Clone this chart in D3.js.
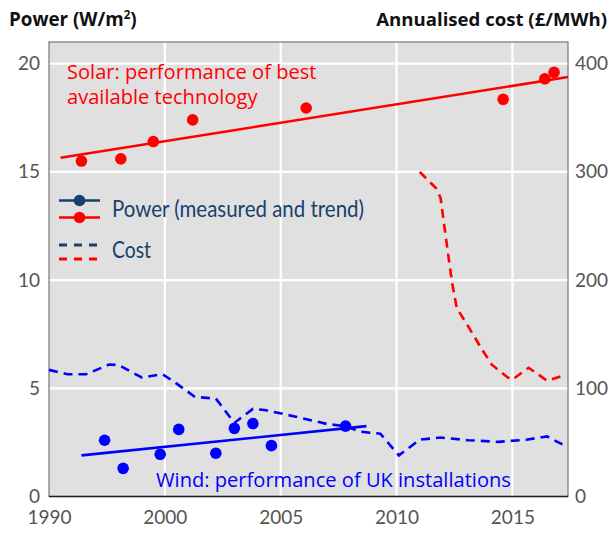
<!DOCTYPE html>
<html>
<head>
<meta charset="utf-8">
<script src="https://cdn.jsdelivr.net/npm/d3@7"></script>
<style>
  body { margin: 0; background: #fff; }
  svg text { font-family: "Open Sans", Lato, sans-serif; }
</style>
</head>
<body>
<div id="chart"></div>
<script>
// x ticks: gridlines are evenly spaced, first one is labelled 1990 in the original
var xTickVals = [1995, 2000, 2005, 2010, 2015];
var xTickLabels = ["1990", "2000", "2005", "2010", "2015"];
var powerTicks = [0, 5, 10, 15, 20];
var costTicks = [0, 100, 200, 300, 400];

// solar: best available technology (W/m2)
var solarYears = [1996.4, 1998.1, 1999.5, 2001.2, 2006.1, 2014.6, 2016.4, 2016.8];
var solarPower = [15.5, 15.6, 16.4, 17.4, 17.95, 18.35, 19.3, 19.6];
var solarTrend = [[1995.5, 15.65], [2017.4, 19.38]];

// wind: UK installations (W/m2)
var windYears = [1997.4, 1998.2, 1999.8, 2000.6, 2002.2, 2003.0, 2003.8, 2004.6, 2007.8];
var windPower = [2.6, 1.3, 1.95, 3.1, 2.0, 3.15, 3.37, 2.35, 3.25];
var windTrend = [[1996.4, 1.9], [2008.7, 3.25]];

// annualised cost (GBP/MWh)
var windCostYears = [1995.0, 1995.8, 1996.6, 1997.6, 1998.0, 1999.0, 1999.9, 2000.4, 2001.3, 2002.2, 2003.0,
  2003.8, 2004.3, 2005.6, 2007.0, 2007.8, 2008.4, 2009.3, 2010.1, 2011.0, 2011.9, 2013.1, 2014.4, 2015.6, 2016.5, 2017.3];
var windCost = [117, 113, 113, 122, 121.5, 110, 113, 106, 92, 90.5, 68,
  81, 80, 74, 67, 65, 60, 58, 38, 52.5, 54.5, 52, 50.5, 52.5, 55.5, 46.5];
var solarCostYears = [2011.0, 2011.7, 2011.9, 2012.2, 2012.4, 2012.6, 2013.1, 2013.6, 2014.1, 2014.8, 2015.0, 2015.7, 2016.5, 2017.1];
var solarCost = [300, 285, 276, 228, 197, 174, 157, 139, 122, 110, 108, 119, 107, 111];

var W = 611, H = 533;
var plotL = 49, plotR = 568, plotT = 42, plotB = 496.5;

var svg = d3.select("#chart").append("svg")
  .attr("width", W)
  .attr("height", H);

var x = d3.scaleLinear().domain([1995, 2017.4]).range([plotL, plotR]);
var y = d3.scaleLinear().domain([0, 21]).range([plotB, plotT]);
var yCost = d3.scaleLinear().domain([0, 420]).range([plotB, plotT]);

// plot background
svg.append("rect")
  .attr("x", plotL).attr("y", plotT)
  .attr("width", plotR - plotL).attr("height", plotB - plotT)
  .style("fill", "#e0e0e0");

// grid
svg.selectAll("line.hgrid")
  .data(powerTicks.slice(1))
  .enter()
  .append("line")
  .attr("class", "hgrid")
  .attr("x1", plotL).attr("x2", plotR)
  .attr("y1", function(d) { return y(d); })
  .attr("y2", function(d) { return y(d); })
  .style("stroke", "#fff")
  .style("stroke-width", 2.2);
svg.selectAll("line.vgrid")
  .data(xTickVals.slice(1))
  .enter()
  .append("line")
  .attr("class", "vgrid")
  .attr("y1", plotT).attr("y2", plotB)
  .attr("x1", function(d) { return x(d); })
  .attr("x2", function(d) { return x(d); })
  .style("stroke", "#fff")
  .style("stroke-width", 2.2);

// frame
svg.append("rect")
  .attr("x", plotL).attr("y", plotT)
  .attr("width", plotR - plotL).attr("height", plotB - plotT)
  .style("fill", "none")
  .style("stroke", "#777")
  .style("stroke-width", 1.2);
svg.append("line")
  .attr("x1", plotL).attr("x2", plotR)
  .attr("y1", plotB).attr("y2", plotB)
  .style("stroke", "#222")
  .style("stroke-width", 1.5);

// axes
var axisLeft = d3.axisLeft(y).tickValues(powerTicks).tickSize(0).tickPadding(9);
var axisRight = d3.axisRight(yCost).tickValues(costTicks).tickSize(0).tickPadding(7);
var axisBottom = d3.axisBottom(x).tickValues(xTickVals).tickSize(0).tickPadding(14)
  .tickFormat(function(d, i) { return xTickLabels[i]; });

function styleAxis(g) {
  g.select(".domain").remove();
  g.selectAll("text")
    .style("font-family", "Lato, sans-serif")
    .style("font-size", "19px")
    .style("fill", "#555");
}
svg.append("g").attr("transform", "translate(" + plotL + ",0)").call(axisLeft).call(styleAxis);
svg.append("g").attr("transform", "translate(" + plotR + ",0)").call(axisRight).call(styleAxis);
svg.append("g").attr("transform", "translate(0," + plotB + ")").call(axisBottom).call(styleAxis);

// axis titles
svg.append("text")
  .attr("x", 9).attr("y", 26)
  .style("font-size", "18.8px").style("font-weight", "bold").style("fill", "#111")
  .html("Power (W/m<tspan dy='-7' font-size='11.5px'>2</tspan><tspan dy='7'>)</tspan>");
svg.append("text")
  .attr("x", 607).attr("y", 26)
  .attr("text-anchor", "end")
  .style("font-size", "18.6px").style("font-weight", "bold").style("fill", "#111")
  .text("Annualised cost (£/MWh)");

// cost lines
var costLine = d3.line()
  .x(function(d) { return x(d[0]); })
  .y(function(d) { return yCost(d[1]); });
svg.append("path")
  .datum(d3.zip(windCostYears, windCost))
  .attr("d", costLine)
  .style("fill", "none")
  .style("stroke", "#0000ff")
  .style("stroke-width", 2.6)
  .style("stroke-dasharray", "9,6");
svg.append("path")
  .datum(d3.zip(solarCostYears, solarCost))
  .attr("d", costLine)
  .style("fill", "none")
  .style("stroke", "#ff0000")
  .style("stroke-width", 2.6)
  .style("stroke-dasharray", "9,6");

// trends
var powerLine = d3.line()
  .x(function(d) { return x(d[0]); })
  .y(function(d) { return y(d[1]); });
svg.append("path").datum(windTrend).attr("d", powerLine)
  .style("stroke", "#0000ff").style("stroke-width", 2.6).style("fill", "none");
svg.append("path").datum(solarTrend).attr("d", powerLine)
  .style("stroke", "#ff0000").style("stroke-width", 2.6).style("fill", "none");

// points
svg.selectAll("circle.wind")
  .data(d3.zip(windYears, windPower))
  .enter()
  .append("circle")
  .attr("class", "wind")
  .attr("cx", function(d) { return x(d[0]); })
  .attr("cy", function(d) { return y(d[1]); })
  .attr("r", 5.8)
  .style("fill", "#0000ff");
svg.selectAll("circle.solar")
  .data(d3.zip(solarYears, solarPower))
  .enter()
  .append("circle")
  .attr("class", "solar")
  .attr("cx", function(d) { return x(d[0]); })
  .attr("cy", function(d) { return y(d[1]); })
  .attr("r", 5.8)
  .style("fill", "#ff0000");

// labels
svg.append("text").attr("x", 67).attr("y", 79)
  .style("font-size", "20.1px").style("fill", "#ff0000")
  .text("Solar: performance of best");
svg.append("text").attr("x", 67).attr("y", 104)
  .style("font-size", "20.1px").style("fill", "#ff0000")
  .text("available technology");
svg.append("text").attr("x", 156).attr("y", 487)
  .style("font-size", "20.1px").style("fill", "#0000ff")
  .text("Wind: performance of UK installations");

// legend
var navy = "#17406d";
var lg = svg.append("g");
lg.append("line").attr("x1", 59).attr("x2", 100).attr("y1", 200.5).attr("y2", 200.5)
  .style("stroke", navy).style("stroke-width", 2.6);
lg.append("circle").attr("cx", 79.5).attr("cy", 200.5).attr("r", 5.8).style("fill", navy);
lg.append("line").attr("x1", 59).attr("x2", 100).attr("y1", 217.5).attr("y2", 217.5)
  .style("stroke", "#ff0000").style("stroke-width", 2.6);
lg.append("circle").attr("cx", 79.5).attr("cy", 217.5).attr("r", 5.8).style("fill", "#ff0000");
lg.append("line").attr("x1", 59).attr("x2", 100).attr("y1", 245).attr("y2", 245)
  .style("stroke", navy).style("stroke-width", 2.8).style("stroke-dasharray", "8,7");
lg.append("line").attr("x1", 59).attr("x2", 100).attr("y1", 259).attr("y2", 259)
  .style("stroke", "#ff0000").style("stroke-width", 2.8).style("stroke-dasharray", "8,7");
lg.append("text").attr("x", 112).attr("y", 217)
  .style("font-family", "Lato, sans-serif")
  .style("font-size", "23px").style("fill", navy)
  .attr("textLength", 252).attr("lengthAdjust", "spacingAndGlyphs")
  .text("Power (measured and trend)");
lg.append("text").attr("x", 112).attr("y", 258)
  .style("font-family", "Lato, sans-serif")
  .style("font-size", "23px").style("fill", navy)
  .attr("textLength", 39).attr("lengthAdjust", "spacingAndGlyphs")
  .text("Cost");
</script>
</body>
</html>
